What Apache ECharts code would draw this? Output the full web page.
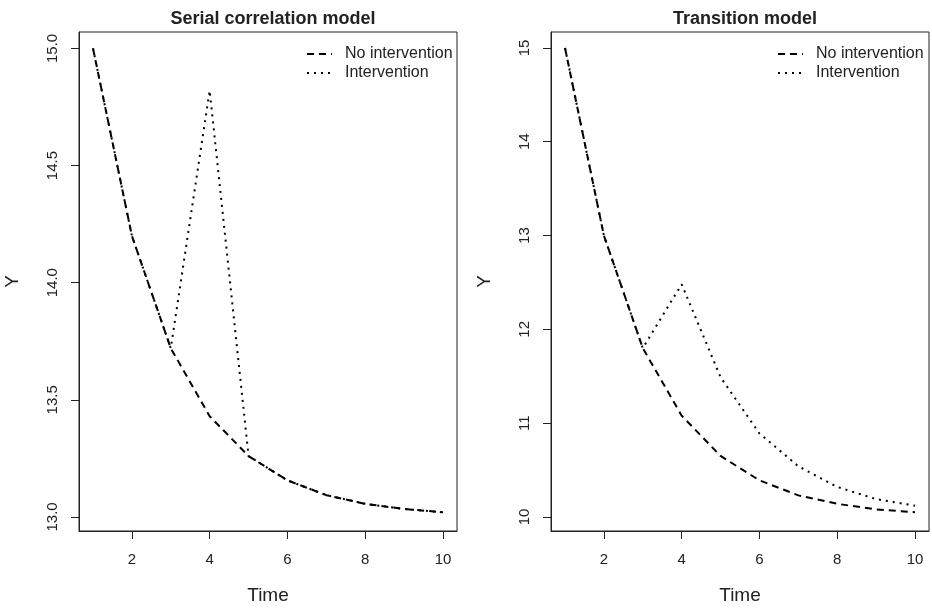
<!DOCTYPE html>
<html>
<head>
<meta charset="utf-8">
<script src="https://cdn.jsdelivr.net/npm/echarts@6/dist/echarts.min.js"></script>
<style>
  html, body { margin: 0; padding: 0; background: #fff; }
  #main { width: 932px; height: 612px; }
</style>
</head>
<body>
<div id="main"></div>
<script>
// time points
var time = [1, 2, 3, 4, 5, 6, 7, 8, 9, 10];

// serial correlation model (left)
var serialNo = [15.0, 14.2, 13.72, 13.43, 13.26, 13.156, 13.093, 13.056, 13.034, 13.02];
var serialInt = [15.0, 14.2, 13.72, 14.82, 13.26, 13.156, 13.093, 13.056, 13.034, 13.02];

// transition model (right)
var transNo = [15.0, 13.0, 11.8, 11.08, 10.65, 10.39, 10.23, 10.14, 10.08, 10.05];
var transInt = [15.0, 13.0, 11.8, 12.48, 11.49, 10.89, 10.54, 10.32, 10.19, 10.12];

// tick labels
var xTicks = [2, 4, 6, 8, 10];
var yTicksLeft = [13.0, 13.5, 14.0, 14.5, 15.0];
var yTicksRight = [10, 11, 12, 13, 14, 15];

var font = 'Liberation Sans, Arial, Helvetica, sans-serif';
var textColor = '#222';

function pairs(ys) {
  return time.map(function (t, i) { return [t, ys[i]]; });
}

function xAxisFor(idx) {
  return {
    gridIndex: idx,
    type: 'value',
    min: 0.64,
    max: 10.36,
    name: 'Time',
    nameLocation: 'middle',
    nameGap: 55,
    nameTextStyle: { fontFamily: font, fontSize: 19, color: textColor },
    axisLine: { show: true, onZero: false, lineStyle: { color: '#222', width: 1 } },
    axisTick: { show: true, length: 8, customValues: xTicks, lineStyle: { color: '#222' } },
    axisLabel: { customValues: xTicks, margin: 21, fontFamily: font, fontSize: 15, color: textColor },
    splitLine: { show: false }
  };
}

function yAxisFor(idx, min, max, ticks, digits) {
  return {
    gridIndex: idx,
    type: 'value',
    min: min,
    max: max,
    name: 'Y',
    nameLocation: 'middle',
    nameRotate: 90,
    nameGap: 57,
    nameTextStyle: { fontFamily: font, fontSize: 19, color: textColor },
    axisLine: { show: true, onZero: false, lineStyle: { color: '#222', width: 1 } },
    axisTick: { show: true, length: 8, customValues: ticks, lineStyle: { color: '#222' } },
    axisLabel: {
      customValues: ticks,
      rotate: 90,
      margin: 19,
      fontFamily: font,
      fontSize: 15,
      color: textColor,
      formatter: function (v) { return Number(v).toFixed(digits); }
    },
    splitLine: { show: false }
  };
}

function lineSeries(name, idx, ys, dash) {
  return {
    name: name,
    type: 'line',
    xAxisIndex: idx,
    yAxisIndex: idx,
    data: pairs(ys),
    symbol: 'none',
    silent: true,
    animation: false,
    lineStyle: { color: '#000', width: 2, type: dash, cap: 'butt' },
    itemStyle: { color: '#000' }
  };
}

var dashed = [7, 5];
var dotted = [2, 5];

function legendAt(left) {
  return {
    orient: 'vertical', left: left, top: 41, itemWidth: 25, itemHeight: 16, itemGap: 3,
    data: ['No intervention', 'Intervention'],
    itemStyle: { opacity: 0 },
    textStyle: { fontFamily: font, fontSize: 16, color: textColor, padding: [0, 0, 0, 8] }
  };
}

var myChart = echarts.init(document.getElementById('main'));
var option = {
  backgroundColor: '#fff',
  animation: false,
  title: [
    { text: 'Serial correlation model', left: 268, top: 5, textAlign: 'center',
      textStyle: { fontFamily: font, fontSize: 18, fontWeight: 'bold', color: textColor } },
    { text: 'Transition model', left: 740, top: 5, textAlign: 'center',
      textStyle: { fontFamily: font, fontSize: 18, fontWeight: 'bold', color: textColor } }
  ],
  legend: [legendAt(301), legendAt(772)],
  grid: [
    { left: 79, top: 32, width: 378, height: 499, show: true, borderColor: '#222', borderWidth: 1 },
    { left: 551, top: 32, width: 378, height: 499, show: true, borderColor: '#222', borderWidth: 1 }
  ],
  xAxis: [xAxisFor(0), xAxisFor(1)],
  yAxis: [
    yAxisFor(0, 12.94, 15.07, yTicksLeft, 1),
    yAxisFor(1, 9.85, 15.17, yTicksRight, 0)
  ],
  series: [
    lineSeries('No intervention', 0, serialNo, dashed),
    lineSeries('Intervention', 0, serialInt, dotted),
    lineSeries('No intervention', 1, transNo, dashed),
    lineSeries('Intervention', 1, transInt, dotted)
  ]
};
myChart.setOption(option);
</script>
</body>
</html>
